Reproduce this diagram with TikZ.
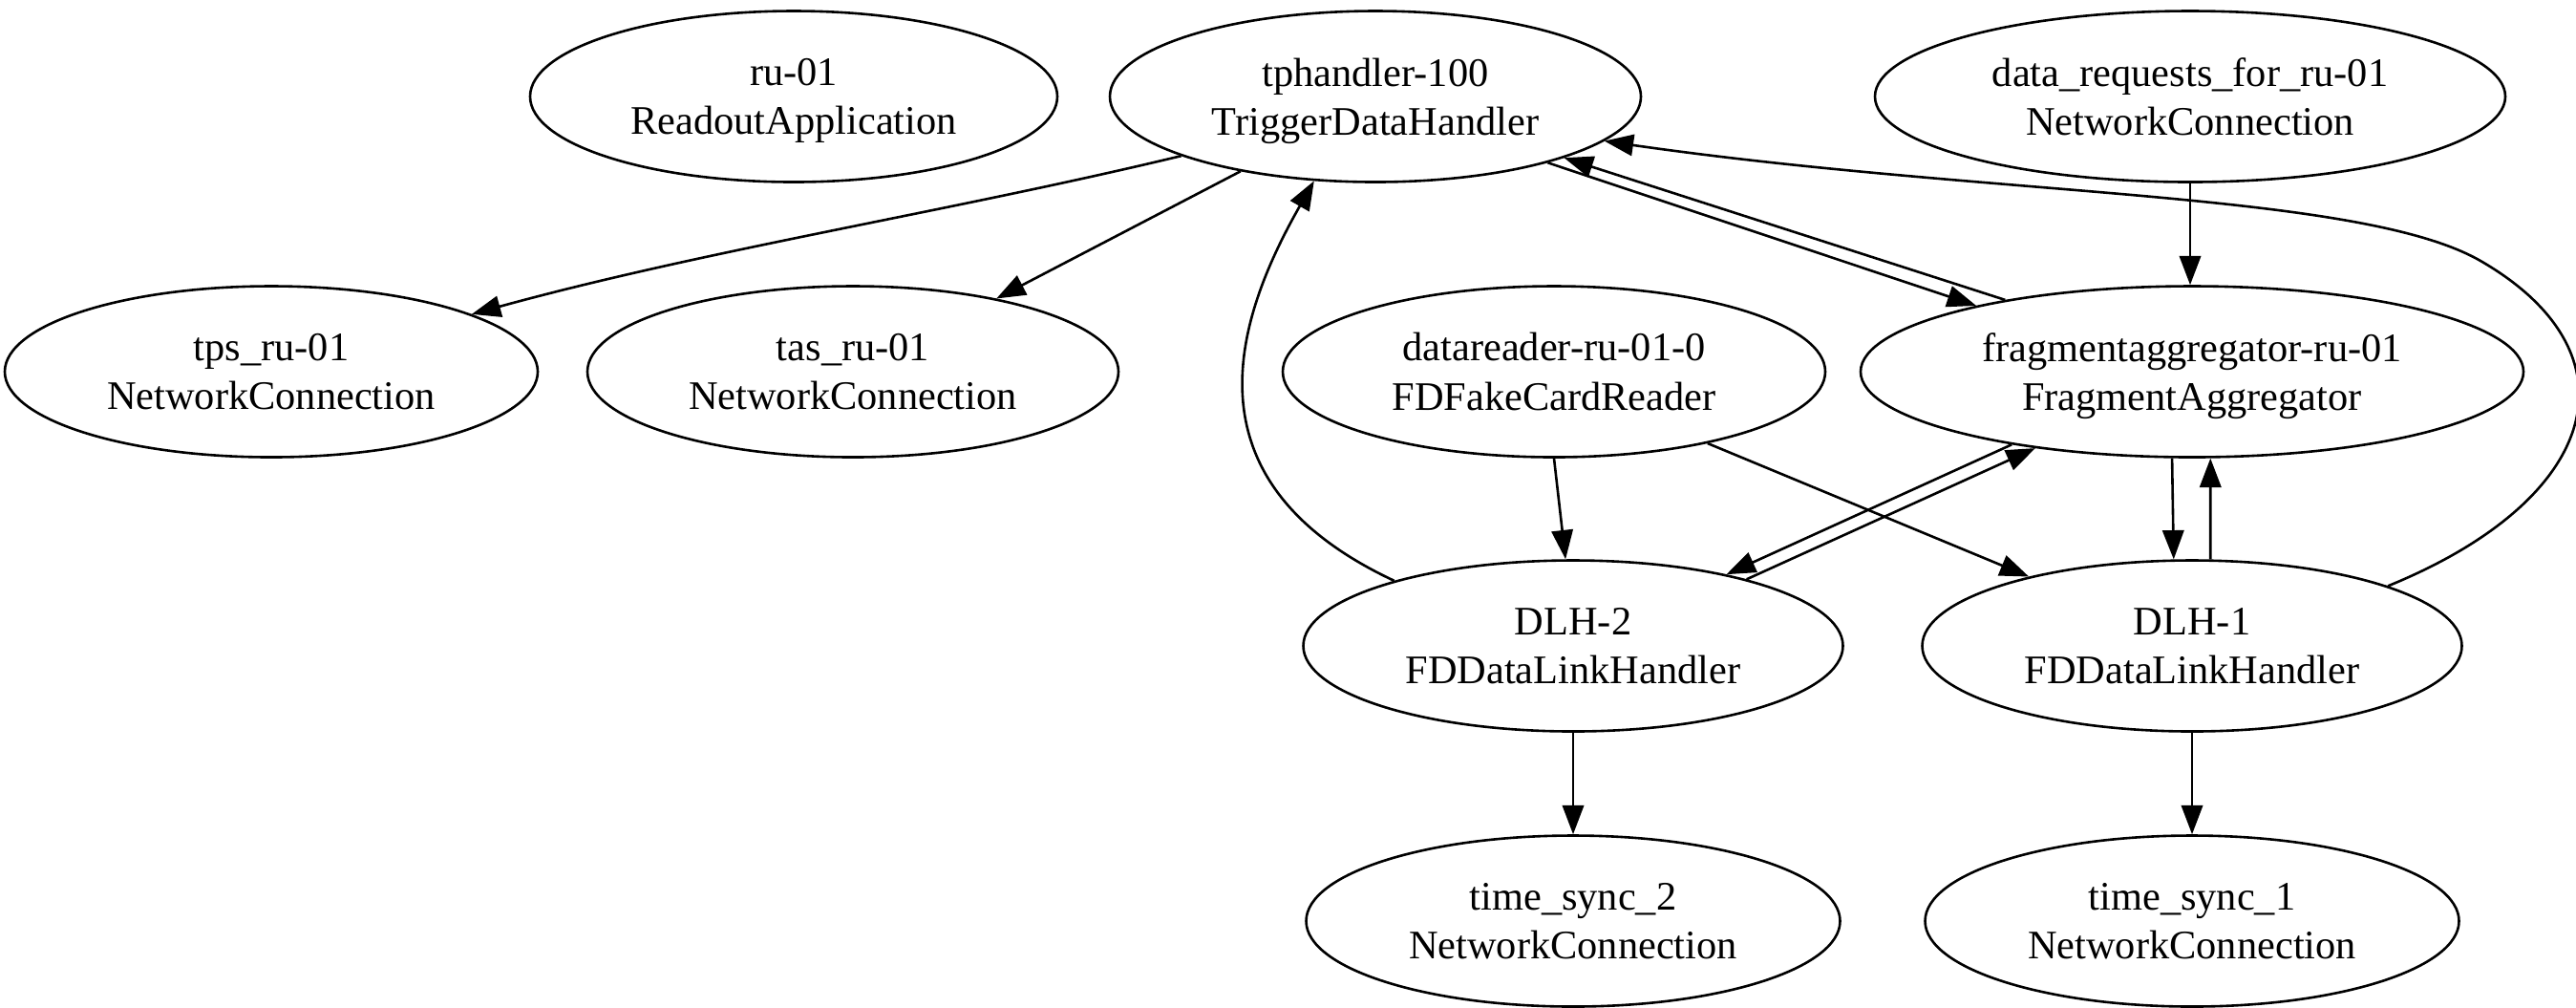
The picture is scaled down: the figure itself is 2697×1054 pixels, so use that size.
\documentclass[tikz,border=0pt]{standalone}
\usepackage{fontspec}
\setmainfont{Liberation Serif}
\usetikzlibrary{arrows.meta,shapes.geometric}
\newcommand{\nodesc}[1]{\raisebox{0pt}[\height][0pt]{#1}}
\begin{document}
\begin{tikzpicture}[x=0.25pt,y=-0.25pt,
  nd/.style={draw, ellipse, line width=0.65pt, minimum height=44.75pt, inner sep=0pt,
    align=center, font=\fontsize{10.6pt}{12.8pt}\selectfont},
  arr/.style={line width=0.65pt, -{Triangle[length=7.6pt,width=5.6pt]}}]
\useasboundingbox[fill=white] (0,0) rectangle (2697,1054);
% nodes
\node[nd, minimum width=138pt]   (ru)   at (831,101)  {ru-01\\\nodesc{ReadoutApplication}};
\node[nd, minimum width=139pt]   (tph)  at (1440,101) {tphandler-100\\\nodesc{TriggerDataHandler}};
\node[nd, minimum width=165pt]   (dr)   at (2293,101) {data\_requests\_for\_ru-01\\NetworkConnection};
\node[nd, minimum width=139.5pt] (tps)  at (284,389)  {tps\_ru-01\\NetworkConnection};
\node[nd, minimum width=139pt]   (tas)  at (893,389)  {tas\_ru-01\\NetworkConnection};
\node[nd, minimum width=142pt]   (rd)   at (1627,389) {datareader-ru-01-0\\FDFakeCardReader};
\node[nd, minimum width=173.5pt] (fa)   at (2295,389) {fragmentaggregator-ru-01\\\nodesc{FragmentAggregator}};
\node[nd, minimum width=141.25pt] (dlh2) at (1647,676) {DLH-2\\FDDataLinkHandler};
\node[nd, minimum width=141.25pt] (dlh1) at (2295,676) {DLH-1\\FDDataLinkHandler};
\node[nd, minimum width=139.75pt] (ts2)  at (1647,964) {time\_sync\_2\\NetworkConnection};
\node[nd, minimum width=139.75pt] (ts1)  at (2295,964) {time\_sync\_1\\NetworkConnection};
% edges
\draw[arr] (tph.197.9) .. controls (992,222) and (741,261) .. (tps.16.4);
\draw[arr] (tph.209.4) -- (tas.27);
\draw[arr] (tph.339.5) -- (fa.163);
\draw[arr] (fa.159.5) -- (tph.342.8);
\draw[arr] (dlh1.17.1) .. controls (2724,522) and (2765,370) .. (2597,273)
                       .. controls (2470,200) and (2086,206) .. (tph.349.2);
\draw[arr] (dlh2.160.2) .. controls (1240,505) and (1290,340) .. (tph.234.5);
\draw[arr] (dr.south) -- (dr.south |- fa.north);
\draw[arr] (rd.south) -- (dlh2.95);
\draw[arr] (rd.335.4) -- (dlh1.157.2);
\draw[arr] (fa.202.7) -- (dlh2.25.2);
\draw[arr] (dlh2.21.3) -- (fa.206.3);
\draw[arr] (fa.257.4) -- (dlh1.102.6);
\draw[arr] (dlh1.78) -- (fa.282);
\draw[arr] (dlh2.south) -- (ts2.north);
\draw[arr] (dlh1.south) -- (ts1.north);
\end{tikzpicture}
\end{document}
